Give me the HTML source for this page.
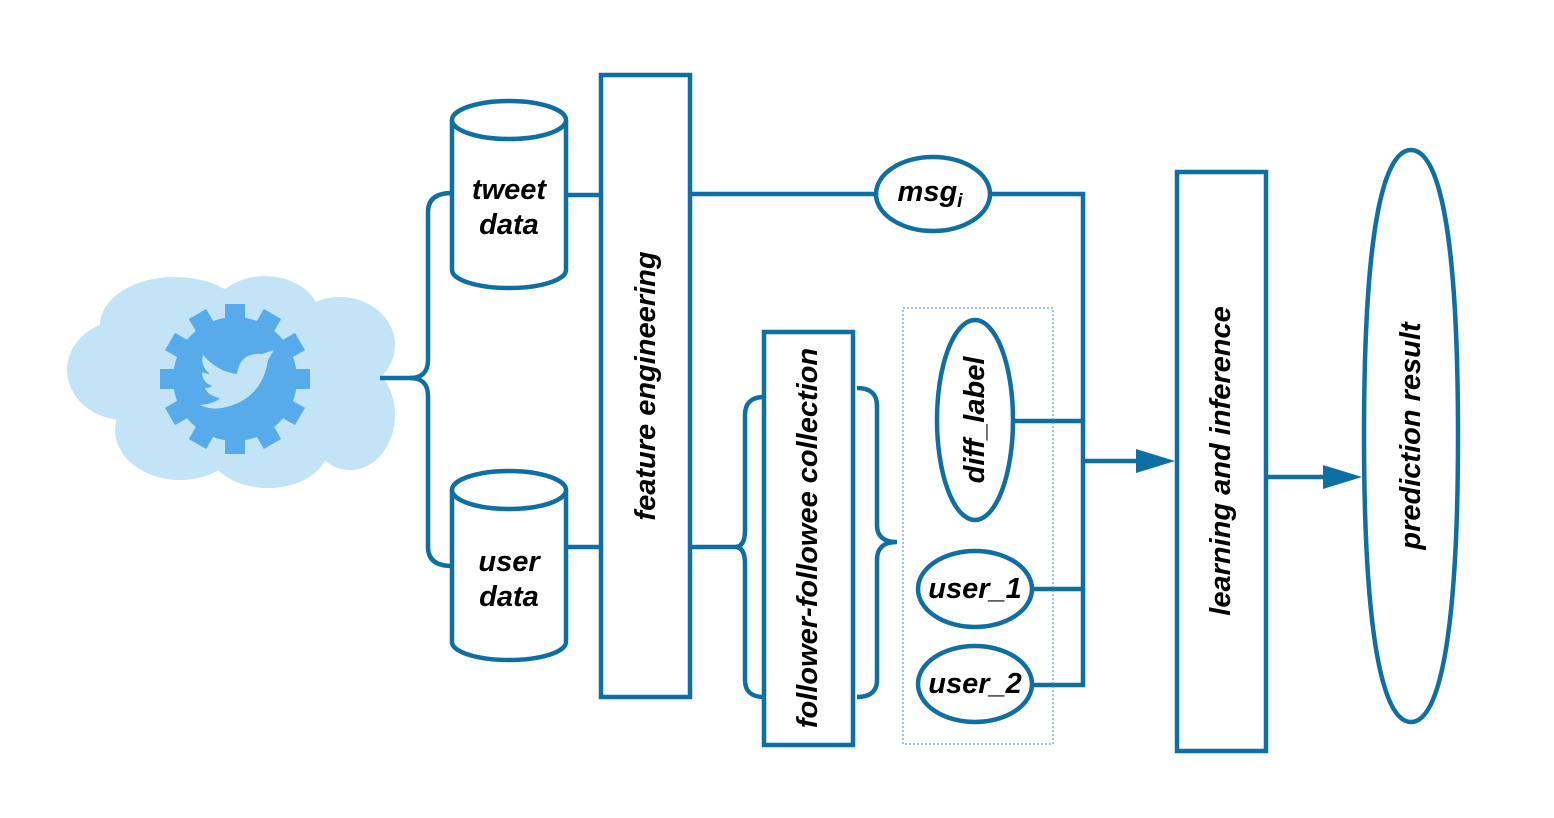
<!DOCTYPE html>
<html><head><meta charset="utf-8"><style>
html,body{margin:0;padding:0;background:#fff;}
svg{display:block;}
text{font-family:"Liberation Sans",sans-serif;font-weight:bold;font-style:italic;fill:#000;}
</style></head><body>
<svg width="1554" height="818" viewBox="0 0 1554 818" xmlns="http://www.w3.org/2000/svg">
<g fill="#c2e4f6">
<ellipse cx="175" cy="325" rx="75" ry="48"/>
<ellipse cx="265" cy="318" rx="55" ry="42"/>
<ellipse cx="340" cy="345" rx="55" ry="48"/>
<ellipse cx="125" cy="370" rx="58" ry="50"/>
<ellipse cx="350" cy="415" rx="45" ry="55"/>
<ellipse cx="180" cy="430" rx="65" ry="50"/>
<ellipse cx="268" cy="448" rx="60" ry="40"/>
<ellipse cx="235" cy="385" rx="120" ry="80"/>
</g>
<g fill="#57abeb" transform="translate(235 379)">
<circle cx="0" cy="0" r="62"/>
<rect x="-10" y="-75" width="20" height="20"/>
<rect x="-10" y="-75" width="20" height="20" transform="rotate(30)"/>
<rect x="-10" y="-75" width="20" height="20" transform="rotate(60)"/>
<rect x="-10" y="-75" width="20" height="20" transform="rotate(90)"/>
<rect x="-10" y="-75" width="20" height="20" transform="rotate(120)"/>
<rect x="-10" y="-75" width="20" height="20" transform="rotate(150)"/>
<rect x="-10" y="-75" width="20" height="20" transform="rotate(180)"/>
<rect x="-10" y="-75" width="20" height="20" transform="rotate(210)"/>
<rect x="-10" y="-75" width="20" height="20" transform="rotate(240)"/>
<rect x="-10" y="-75" width="20" height="20" transform="rotate(270)"/>
<rect x="-10" y="-75" width="20" height="20" transform="rotate(300)"/>
<rect x="-10" y="-75" width="20" height="20" transform="rotate(330)"/>
</g>
<path d="M203 355 Q218 372 237 374 Q240 352 262 354 L274 350 L268 360 Q262 400 222 408 Q210 410 200 405 Q214 404 220 398 Q208 396 205 388 Q210 388 212 386 Q202 382 202 372 Q206 374 210 374 Q200 366 203 355Z" fill="#c2e4f6"/>
<g fill="none" stroke="#0e6fa5" stroke-width="4.5">
<path d="M380 378 L410 378 Q428 378 428 360 L428 212 Q428 193 452 193"/>
<path d="M410 378 Q428 378 428 396 L428 547 Q428 566 452 566"/>
<path d="M452 120 L452 270 A57 18 0 0 0 566 270 L566 120"/>
<ellipse cx="509" cy="120" rx="57" ry="19" fill="#fff"/>
<path d="M452 490 L452 642 A57 18 0 0 0 566 642 L566 490"/>
<ellipse cx="509" cy="490" rx="57" ry="19" fill="#fff"/>
<line x1="566" y1="195" x2="601" y2="195"/>
<line x1="566" y1="547" x2="601" y2="547"/>
<rect x="601" y="75" width="89" height="622"/>
<line x1="690" y1="194" x2="876" y2="194"/>
<ellipse cx="933" cy="194" rx="57" ry="37"/>
<polyline points="990,194 1083,194 1083,685 1033,685"/>
<line x1="690" y1="547" x2="735" y2="547"/>
<path d="M764 397 Q745 397 745 415 L745 530 Q745 547 735 547 Q745 547 745 564 L745 680 Q745 697 764 697"/>
<rect x="764" y="332" width="89" height="413"/>
<path d="M857 388 Q877 388 877 406 L877 525 Q877 542 897 542 Q877 542 877 560 L877 680 Q877 697 857 697"/>
<ellipse cx="975" cy="420" rx="38" ry="100"/>
<line x1="1013" y1="421" x2="1083" y2="421"/>
<ellipse cx="975" cy="589" rx="57" ry="38"/>
<line x1="1032" y1="589" x2="1083" y2="589"/>
<ellipse cx="975" cy="684" rx="57" ry="38"/>
<line x1="1083" y1="461" x2="1140" y2="461"/>
<rect x="1177" y="172" width="89" height="579"/>
<line x1="1268" y1="477" x2="1325" y2="477"/>
<path d="M1364 436 C1364 250 1380 150 1411 150 C1442 150 1458 250 1458 436 C1458 620 1442 722 1411 722 C1380 722 1364 620 1364 436Z"/>
</g>
<rect x="903" y="308" width="150" height="436" fill="none" stroke="#3b8ec4" stroke-width="1" stroke-dasharray="2,2"/>
<polygon points="1136,449 1175,461 1136,473" fill="#0e6fa5"/>
<polygon points="1323,465 1362,477 1323,489" fill="#0e6fa5"/>
<g font-size="29" text-anchor="middle">
<text x="509" y="199">tweet</text>
<text x="509" y="234">data</text>
<text x="509" y="571">user</text>
<text x="509" y="606">data</text>
<text x="930" y="201">msg<tspan font-size="19" dy="6">i</tspan></text>
<text x="975" y="598">user_1</text>
<text x="975" y="693">user_2</text>
<text transform="translate(655 386) rotate(-90)">feature engineering</text>
<text transform="translate(817 538) rotate(-90)">follower-followee collection</text>
<text transform="translate(984 420) rotate(-90)">diff_label</text>
<text transform="translate(1230 461) rotate(-90)">learning and inference</text>
<text transform="translate(1420 436) rotate(-90)">prediction result</text>
</g>
</svg>
</body></html>
